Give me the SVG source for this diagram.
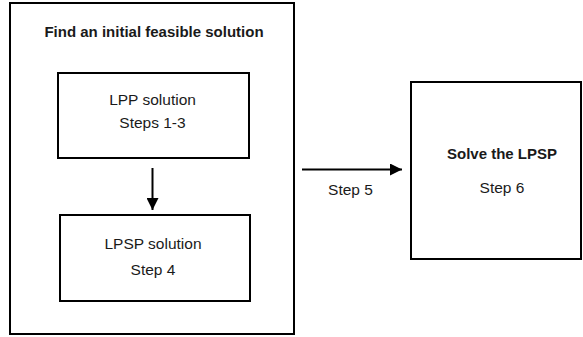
<svg xmlns="http://www.w3.org/2000/svg" width="583" height="337" viewBox="0 0 583 337">
  <style>
    .box { fill: #ffffff; stroke: #000000; stroke-width: 2; }
    .lbl { font-family: "Liberation Sans", Arial, Helvetica, sans-serif; font-size: 15.5px; fill: #1a1a1a; text-anchor: middle; }
    .bold { font-weight: bold; font-size: 15px; }
    .edge { fill: none; stroke: #000000; stroke-width: 2; }
  </style>
  <defs>
    <marker id="arrow" markerUnits="userSpaceOnUse" markerWidth="12" markerHeight="12" viewBox="0 0 10 10" refX="10" refY="5" orient="auto">
      <path d="M0,0 L10,5 L0,10 Z" fill="#000000"/>
    </marker>
  </defs>
  <rect width="583" height="337" fill="#ffffff"/>
  <g id="initial-feasible">
    <rect class="box" x="10" y="3" width="284" height="331"/>
    <text class="lbl bold" x="154" y="37">Find an initial feasible solution</text>
  </g>
  <g id="lpp-solution">
    <rect class="box" x="58" y="73" width="191" height="85"/>
    <text class="lbl" x="152.5" y="105">LPP solution</text>
    <text class="lbl" x="152.5" y="128">Steps 1-3</text>
  </g>
  <g id="lpsp-solution">
    <rect class="box" x="60" y="215" width="190" height="86"/>
    <text class="lbl" x="153" y="249">LPSP solution</text>
    <text class="lbl" x="153" y="275">Step 4</text>
  </g>
  <g id="solve-lpsp">
    <rect class="box" x="411" y="82" width="170" height="177"/>
    <text class="lbl bold" x="502" y="159">Solve the LPSP</text>
    <text class="lbl" x="502" y="193">Step 6</text>
  </g>
  <g id="connectors">
    <line class="edge" x1="152.5" y1="168" x2="152.5" y2="210" marker-end="url(#arrow)"/>
    <line class="edge" x1="302" y1="169.5" x2="402" y2="169.5" marker-end="url(#arrow)"/>
    <text class="lbl" x="350.5" y="195">Step 5</text>
  </g>
</svg>
